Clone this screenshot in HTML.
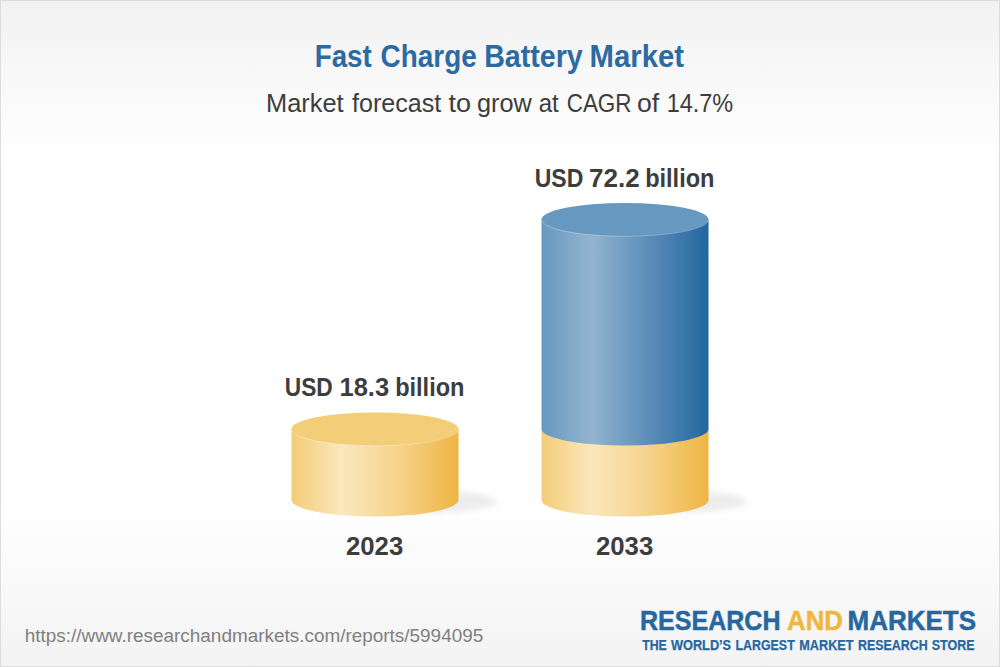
<!DOCTYPE html>
<html>
<head>
<meta charset="utf-8">
<style>
html,body{margin:0;padding:0;width:1000px;height:667px;overflow:hidden;background:#fff;}
svg{display:block;}
text{font-family:"Liberation Sans", sans-serif;}
</style>
</head>
<body>
<svg width="1000" height="667" viewBox="0 0 1000 667">
  <defs>
    <linearGradient id="bg" x1="0" y1="0" x2="0" y2="1">
      <stop offset="0" stop-color="#f2f2f2"/>
      <stop offset="0.245" stop-color="#ffffff"/>
      <stop offset="0.755" stop-color="#ffffff"/>
      <stop offset="1" stop-color="#f3f3f3"/>
    </linearGradient>
    <linearGradient id="ySide" x1="0" y1="0" x2="1" y2="0">
      <stop offset="0" stop-color="#f3cc76"/>
      <stop offset="0.3" stop-color="#fbe7bd"/>
      <stop offset="0.65" stop-color="#f5d28a"/>
      <stop offset="1" stop-color="#efb542"/>
    </linearGradient>
    <linearGradient id="bSide" x1="0" y1="0" x2="1" y2="0">
      <stop offset="0" stop-color="#6799c1"/>
      <stop offset="0.3" stop-color="#93b4d0"/>
      <stop offset="0.65" stop-color="#5a8cb8"/>
      <stop offset="1" stop-color="#22669f"/>
    </linearGradient>
    <filter id="blur" x="-50%" y="-100%" width="200%" height="300%">
      <feGaussianBlur stdDeviation="3"/>
    </filter>
  </defs>
  <rect x="0" y="0" width="1000" height="667" fill="url(#bg)"/>
  <rect x="0.5" y="0.5" width="999" height="666" fill="none" stroke="#dcdcdc" stroke-width="1"/>

  <!-- title -->
  <g font-size="31" font-weight="bold" fill="#2b6aa2">
    <text x="314.7" y="67" textLength="57.07" lengthAdjust="spacingAndGlyphs">Fast</text>
    <text x="380.6" y="67" textLength="96.13" lengthAdjust="spacingAndGlyphs">Charge</text>
    <text x="484.15" y="67" textLength="98.61" lengthAdjust="spacingAndGlyphs">Battery</text>
    <text x="589.6" y="67" textLength="94.33" lengthAdjust="spacingAndGlyphs">Market</text>
  </g>
  <g font-size="25" fill="#3d3d3d">
    <text x="265.97" y="112" textLength="77.65" lengthAdjust="spacingAndGlyphs">Market</text>
    <text x="352" y="112" textLength="89.14" lengthAdjust="spacingAndGlyphs">forecast</text>
    <text x="448.4" y="112" textLength="22.53" lengthAdjust="spacingAndGlyphs">to</text>
    <text x="477" y="112" textLength="54.8" lengthAdjust="spacingAndGlyphs">grow</text>
    <text x="538.64" y="112" textLength="20.02" lengthAdjust="spacingAndGlyphs">at</text>
    <text x="566.7" y="112" textLength="64.8" lengthAdjust="spacingAndGlyphs">CAGR</text>
    <text x="636.93" y="112" textLength="22.22" lengthAdjust="spacingAndGlyphs">of</text>
    <text x="666.72" y="112" textLength="66.51" lengthAdjust="spacingAndGlyphs">14.7%</text>
  </g>

  <!-- shadows -->
  <ellipse cx="428" cy="501.5" rx="69" ry="11" fill="#000" opacity="0.07" filter="url(#blur)"/>
  <ellipse cx="678" cy="501.5" rx="69" ry="11" fill="#000" opacity="0.07" filter="url(#blur)"/>

  <!-- left cylinder -->
  <path d="M291.5 429 V500 A83.5 16.5 0 0 0 458.5 500 V429 Z" fill="url(#ySide)"/>
  <ellipse cx="375" cy="429" rx="83.5" ry="16.5" fill="#f3cd78"/>
  <path d="M291.8 429.5 A83.2 16.3 0 0 0 458.2 429.5" fill="none" stroke="#fff" stroke-opacity="0.3" stroke-width="0.9"/>

  <!-- right cylinder -->
  <path d="M541.5 429 V500 A83.5 16.5 0 0 0 708.5 500 V429 Z" fill="url(#ySide)"/>
  <path d="M541.5 219.5 V429 A83.5 16.5 0 0 0 708.5 429 V219.5 Z" fill="url(#bSide)"/>
  <ellipse cx="625" cy="219.5" rx="83.5" ry="16.5" fill="#6798c0"/>
  <path d="M541.8 220 A83.2 16.3 0 0 0 708.2 220" fill="none" stroke="#fff" stroke-opacity="0.3" stroke-width="0.9"/>

  <!-- labels -->
  <g font-weight="bold" fill="#3d3d3d">
    <text x="284.72" y="395.6" font-size="25.5" textLength="48.04" lengthAdjust="spacingAndGlyphs">USD</text>
    <text x="339.5" y="395.6" font-size="25.5" textLength="49.64" lengthAdjust="spacingAndGlyphs">18.3</text>
    <text x="395.15" y="395.6" font-size="25.5" textLength="69.34" lengthAdjust="spacingAndGlyphs">billion</text>
    <text x="534.7" y="186.6" font-size="25.5" textLength="48.56" lengthAdjust="spacingAndGlyphs">USD</text>
    <text x="588.98" y="186.6" font-size="25.5" textLength="50.67" lengthAdjust="spacingAndGlyphs">72.2</text>
    <text x="645.15" y="186.6" font-size="25.5" textLength="69.34" lengthAdjust="spacingAndGlyphs">billion</text>
    <text x="345.97" y="554.7" font-size="25" textLength="57.27" lengthAdjust="spacingAndGlyphs">2023</text>
    <text x="595.97" y="554.7" font-size="25" textLength="57.27" lengthAdjust="spacingAndGlyphs">2033</text>
  </g>

  <!-- url -->
  <text x="24.75" y="641.7" font-size="18" fill="#808080" textLength="458.48" lengthAdjust="spacingAndGlyphs">https://www.researchandmarkets.com/reports/5994095</text>

  <!-- logo -->
  <g font-size="28.5" font-weight="bold" stroke-width="0.5">
    <text x="640" y="629.7" fill="#27679f" stroke="#27679f" textLength="140.5" lengthAdjust="spacingAndGlyphs">RESEARCH</text>
    <text x="787" y="629.7" fill="#f0b73f" stroke="#f0b73f" textLength="56" lengthAdjust="spacingAndGlyphs">AND</text>
    <text x="847.5" y="629.7" fill="#27679f" stroke="#27679f" textLength="128.5" lengthAdjust="spacingAndGlyphs">MARKETS</text>
  </g>
  <g font-size="14" font-weight="bold" fill="#27679f" stroke="#27679f" stroke-width="0.25">
    <text x="642.2" y="649.7" textLength="24.6" lengthAdjust="spacingAndGlyphs">THE</text>
    <text x="671" y="649.7" textLength="60.1" lengthAdjust="spacingAndGlyphs">WORLD’S</text>
    <text x="735.5" y="649.7" textLength="59.2" lengthAdjust="spacingAndGlyphs">LARGEST</text>
    <text x="799.3" y="649.7" textLength="54.2" lengthAdjust="spacingAndGlyphs">MARKET</text>
    <text x="858.1" y="649.7" textLength="69.6" lengthAdjust="spacingAndGlyphs">RESEARCH</text>
    <text x="931.7" y="649.7" textLength="42.9" lengthAdjust="spacingAndGlyphs">STORE</text>
  </g>
</svg>
</body>
</html>
